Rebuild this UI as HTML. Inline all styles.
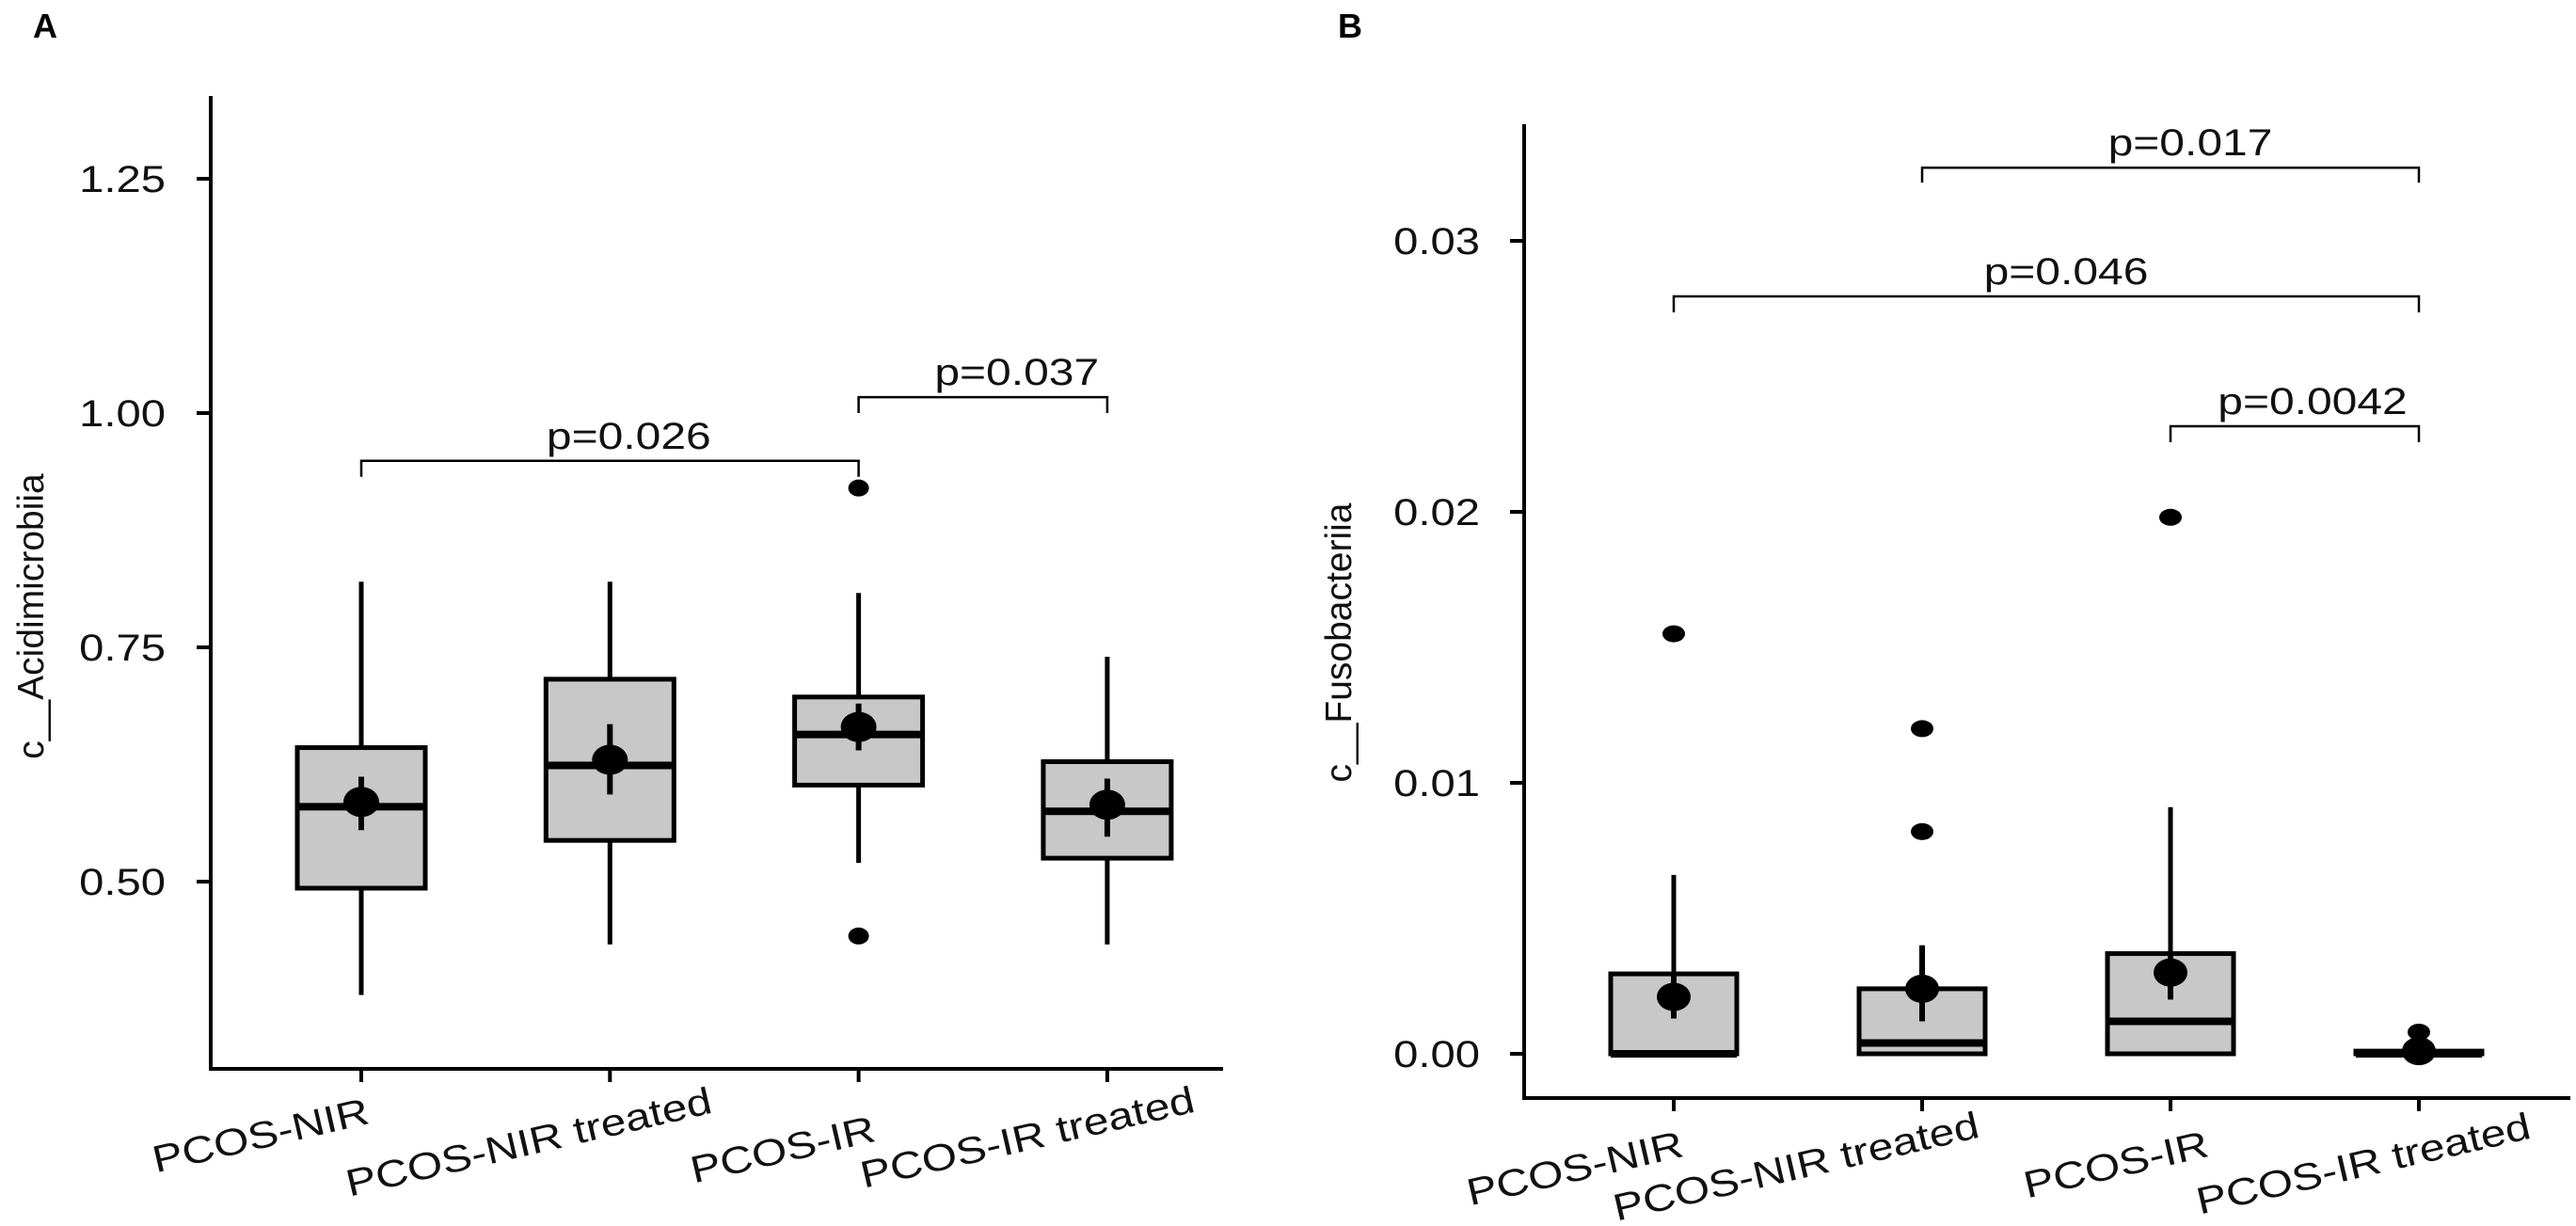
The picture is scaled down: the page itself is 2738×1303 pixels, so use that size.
<!DOCTYPE html>
<html><head><meta charset="utf-8"><style>
html,body{margin:0;padding:0;background:#fff;}
svg{display:block;font-family:"Liberation Sans",Arial,sans-serif;}
</style></head><body>
<svg id="chart" width="2738" height="1303" viewBox="0 0 2738 1303" xmlns="http://www.w3.org/2000/svg">
<g id="pa"></g>
<g id="pb"></g>
</svg>
<script>
// ---- Panel A data ----
const categoriesA = ["PCOS-NIR","PCOS-NIR treated","PCOS-IR","PCOS-IR treated"];
const whiskerLowA = [0.379,0.433,0.520,0.433];
const q1A = [0.493,0.544,0.603,0.525];
const medianA = [0.580,0.624,0.657,0.575];
const q3A = [0.643,0.716,0.697,0.628];
const whiskerHighA = [0.820,0.820,0.808,0.740];
const meanA = [0.585,0.630,0.665,0.582];
const errLowA = [0.555,0.593,0.640,0.548];
const errHighA = [0.612,0.668,0.690,0.610];
const outliersA = [[],[],[0.920,0.442],[]];
const ticksA = [0.50,0.75,1.00,1.25];
const tickLabelsA = ["0.50","0.75","1.00","1.25"];
const bracketsA = [[0,2,0.949,0.932,"p=0.026"],[2,3,1.017,1.000,"p=0.037"]];

// ---- Panel B data ----
const categoriesB = ["PCOS-NIR","PCOS-NIR treated","PCOS-IR","PCOS-IR treated"];
const whiskerLowB = [0,0,0,0];
const q1B = [0,0,0,0];
const medianB = [0,0.0004,0.0012,0];
const q3B = [0.00295,0.0024,0.0037,0.0001];
const whiskerHighB = [0.0066,0.0040,0.0091,0.0001];
const meanB = [0.0021,0.0024,0.0030,0.0001];
const errLowB = [0.0013,0.0012,0.0020,0.0000];
const errHighB = [0.0029,0.0040,0.0037,0.0002];
const outliersB = [[0.0155],[0.0120,0.0082],[0.0198],[0.0008]];
const ticksB = [0.00,0.01,0.02,0.03];
const tickLabelsB = ["0.00","0.01","0.02","0.03"];
const bracketsB = [[1,3,0.0327,0.03215,"p=0.017"],[0,3,0.02795,0.02736,"p=0.046"],[2,3,0.02316,0.02257,"p=0.0042"]];

const NS="http://www.w3.org/2000/svg";
function mk(parent,tag,attrs){const e=document.createElementNS(NS,tag);for(const k in attrs)e.setAttribute(k,attrs[k]);parent.appendChild(e);return e;}

function drawPanel(g,cfg){
  const yScale=v=>cfg.y0+(v-cfg.v0)*(cfg.y1-cfg.y0)/(cfg.v1-cfg.v0);
  const xScale=i=>cfg.cx0+i*cfg.step;
  // panel letter
  let t=mk(g,"text",{x:cfg.letterX,y:40,"font-size":36,"font-weight":"bold",fill:"#000"});
  t.textContent=cfg.letter;
  
  
  // axes
  let ax=mk(g,"line",{x1:cfg.axX,y1:cfg.axTop,x2:cfg.axX,y2:cfg.axY+2,stroke:"#000","stroke-width":4});
  
  
  let ax2=mk(g,"line",{x1:cfg.axX-2,y1:cfg.axY,x2:cfg.axEnd,y2:cfg.axY,stroke:"#000","stroke-width":4});
  
  
  // y ticks
  cfg.ticks.forEach((v,i)=>{
    const y=yScale(v);
    let l=mk(g,"line",{x1:cfg.axX-15,y1:y,x2:cfg.axX,y2:y,stroke:"#000","stroke-width":4});
    
    
    let tt=mk(g,"text",{transform:`translate(${cfg.labelRight},${y+14}) scale(1.18,1)`,"text-anchor":"end","font-size":40,fill:"#111"});
    tt.textContent=cfg.tickLabels[i];
    
    
  });
  // y title
  let yt=mk(g,"text",{transform:`translate(${cfg.titleX},${cfg.titleY}) rotate(-90)`,"text-anchor":"middle","font-size":39,fill:"#111"});
  yt.textContent=cfg.title;
  
  
  // categories
  cfg.cats.forEach((c,i)=>{
    const x=xScale(i);
    let tk=mk(g,"line",{x1:x,y1:cfg.axY,x2:x,y2:cfg.axY+14,stroke:"#000","stroke-width":4});
    
    
    const p=cfg.xLab[i];
    let xl=mk(g,"text",{transform:`translate(${p[0]},${p[1]}) rotate(-13) scale(1.2,1)`,"text-anchor":"middle","font-size":40,fill:"#111"});
    xl.textContent=c;
    
    
    const bw=cfg.half;
    let wh=mk(g,"line",{x1:x,y1:yScale(cfg.wlo[i]),x2:x,y2:yScale(cfg.whi[i]),stroke:"#000","stroke-width":5});
    
    
    const yq3=yScale(cfg.q3[i]),yq1=yScale(cfg.q1[i]);
    let bx=mk(g,"rect",{x:x-bw,y:Math.min(yq1,yq3),width:2*bw,height:Math.max(1,Math.abs(yq1-yq3)),fill:"#c8c8c8",stroke:"#000","stroke-width":5});
    
    
    let md=mk(g,"line",{x1:x-bw,y1:yScale(cfg.med[i]),x2:x+bw,y2:yScale(cfg.med[i]),stroke:"#000","stroke-width":8});
    
    
    let er=mk(g,"line",{x1:x,y1:yScale(cfg.elo[i]),x2:x,y2:yScale(cfg.ehi[i]),stroke:"#000","stroke-width":6});
    
    
    let mn=mk(g,"ellipse",{cx:x,cy:yScale(cfg.mean[i]),rx:cfg.mrx,ry:cfg.mry,fill:"#000"});
    
    
    cfg.out[i].forEach(v=>{
      let o=mk(g,"ellipse",{cx:x,cy:yScale(v),rx:cfg.orx,ry:cfg.ory,fill:"#000"});
      
      
    });
  });
  // brackets
  cfg.br.forEach((b,k)=>{
    const xa=xScale(b[0]),xb=xScale(b[1]),yl=yScale(b[2]),yd=yScale(b[3]);
    let pth=mk(g,"path",{d:`M${xa},${yd} L${xa},${yl} L${xb},${yl} L${xb},${yd}`,fill:"none",stroke:"#000","stroke-width":2.5});
    
    
    let pt=mk(g,"text",{transform:`translate(${(xa+xb)/2+cfg.pShift[k]},${yl-13}) scale(1.2,1)`,"text-anchor":"middle","font-size":40,fill:"#111"});
    pt.textContent=b[4];
    
    
  });
}

drawPanel(document.getElementById('pa'),{
  letter:"A",letterX:35,axX:224,axTop:102,axY:1136,axEnd:1300,
  v0:1.0,y0:439,v1:1.25,y1:190,cx0:384,step:264.3,half:68,
  ticks:ticksA,tickLabels:tickLabelsA,labelRight:176,
  title:"c__Acidimicrobiia",titleX:46,titleY:655,
  cats:categoriesA,xLab:[[280,1220],[565,1227],[835,1235],[1095,1222]],
  wlo:whiskerLowA,whi:whiskerHighA,q1:q1A,q3:q3A,med:medianA,mean:meanA,elo:errLowA,ehi:errHighA,out:outliersA,
  mrx:19,mry:16,orx:11,ory:9,br:bracketsA,pShift:[20,36]
});
drawPanel(document.getElementById('pb'),{
  letter:"B",letterX:1422,axX:1620,axTop:132,axY:1167,axEnd:2732,
  v0:0,y0:1120,v1:0.03,y1:256,cx0:1779,step:264,half:67,
  ticks:ticksB,tickLabels:tickLabelsB,labelRight:1573,
  title:"c__Fusobacteriia",titleX:1436,titleY:683,
  cats:categoriesB,xLab:[[1677,1255],[1912,1253],[2252,1251],[2515,1250]],
  wlo:whiskerLowB,whi:whiskerHighB,q1:q1B,q3:q3B,med:medianB,mean:meanB,elo:errLowB,ehi:errHighB,out:outliersB,
  mrx:18,mry:15,orx:12,ory:9,br:bracketsB,pShift:[21,21,19]
});
</script>
</body></html>
